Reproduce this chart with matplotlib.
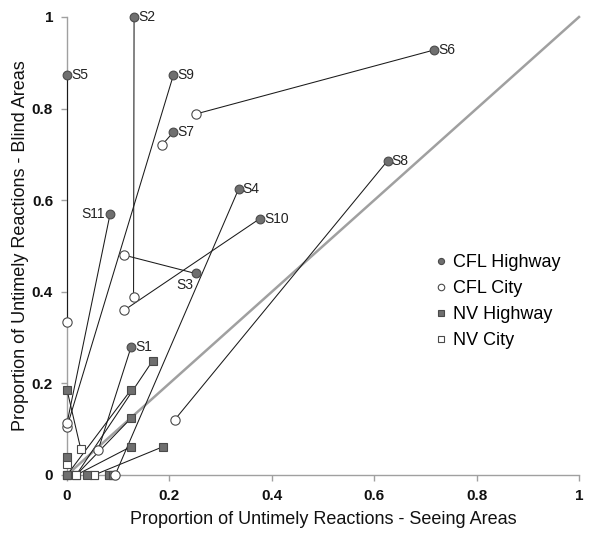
import numpy as np
import matplotlib
matplotlib.use("Agg")
import matplotlib.pyplot as plt

plt.rcParams['font.family'] = ['Liberation Sans', 'DejaVu Sans']

# subjects S1..S11
subjects = ['S1', 'S2', 'S3', 'S4', 'S5', 'S6', 'S7', 'S8', 'S9', 'S10', 'S11']

# CFL condition (highway / city), x = seeing areas, y = blind areas
cfl_hwy_x = [0.125, 0.131, 0.251, 0.335, 0.0, 0.717, 0.208, 0.626, 0.208, 0.377, 0.084]
cfl_hwy_y = [0.279, 1.0, 0.44, 0.624, 0.874, 0.928, 0.749, 0.686, 0.874, 0.56, 0.569]
cfl_city_x = [0.061, 0.13, 0.112, 0.094, 0.0, 0.251, 0.186, 0.21, 0.0, 0.112, 0.0]
cfl_city_y = [0.055, 0.389, 0.48, 0.0, 0.333, 0.788, 0.721, 0.12, 0.105, 0.36, 0.113]

# NV condition (highway / city)
nv_hwy_x = [0.167, 0.0, 0.125, 0.125, 0.125, 0.188, 0.0, 0.0, 0.04, 0.083, 0.09]
nv_hwy_y = [0.249, 0.186, 0.186, 0.124, 0.062, 0.062, 0.04, 0.0, 0.0, 0.0, 0.0]
nv_city_x = [0.018, 0.027, 0.0, 0.018, 0.018, 0.053, 0.0, 0.0, 0.053, 0.083, 0.09]
nv_city_y = [0.0, 0.056, 0.0, 0.0, 0.0, 0.0, 0.025, 0.0, 0.0, 0.0, 0.0]

ticks = [0, 0.2, 0.4, 0.6, 0.8, 1]
tick_labels = ['0', '0.2', '0.4', '0.6', '0.8', '1']

fig = plt.figure(figsize=(6.0, 5.34), dpi=100)
ax = fig.add_axes([67 / 600, 1 - 475 / 534, 512 / 600, 458 / 534])

# diagonal reference line
ax.plot([0, 1], [0, 1], color='#a0a0a0', lw=1.8, zorder=1, clip_on=False)

# connecting lines per subject
for i in range(len(subjects)):
    ax.plot([cfl_hwy_x[i], cfl_city_x[i]], [cfl_hwy_y[i], cfl_city_y[i]],
            color='#1a1a1a', lw=0.75, zorder=2.7, clip_on=False)
    ax.plot([nv_hwy_x[i], nv_city_x[i]], [nv_hwy_y[i], nv_city_y[i]],
            color='#1a1a1a', lw=0.75, zorder=2.7, clip_on=False)

fill_c = '#6f6f6f'
edge_c = '#4a4a4a'
ms = 6.3
ax.plot(nv_city_x, nv_city_y, 's', ms=ms - 0.3, mfc='white', mec=edge_c, mew=0.8,
        ls='none', zorder=3, clip_on=False, label='NV City')
ax.plot(nv_hwy_x, nv_hwy_y, 's', ms=ms - 0.3, mfc=fill_c, mec=edge_c, mew=0.8,
        ls='none', zorder=4, clip_on=False, label='NV Highway')
ax.plot(cfl_city_x, cfl_city_y, 'o', ms=ms + 0.4, mfc='white', mec=edge_c, mew=0.8,
        ls='none', zorder=5, clip_on=False, label='CFL City')
ax.plot(cfl_hwy_x, cfl_hwy_y, 'o', ms=ms, mfc=fill_c, mec=edge_c, mew=0.8,
        ls='none', zorder=6, clip_on=False, label='CFL Highway')

# subject labels
for i, s in enumerate(subjects):
    if s == 'S11':
        off, ha, va = (-4, 0), 'right', 'center'
    elif s == 'S3':
        off, ha, va = (-1.5, -3.5), 'right', 'top'
    else:
        off, ha, va = (3, 0), 'left', 'center'
    ax.annotate(s, (cfl_hwy_x[i], cfl_hwy_y[i]), xytext=off, textcoords='offset points',
                ha=ha, va=va, fontsize=10, color='#222222', zorder=7)

ax.set_xlim(0, 1)
ax.set_ylim(0, 1)
ax.set_xticks(ticks)
ax.set_yticks(ticks)
ax.set_xticklabels(tick_labels, fontweight='bold', fontsize=11)
ax.set_yticklabels(tick_labels, fontweight='bold', fontsize=11)
for sp in ['top', 'right']:
    ax.spines[sp].set_visible(False)
for sp in ['left', 'bottom']:
    ax.spines[sp].set_color('#a0a0a0')
    ax.spines[sp].set_linewidth(1.0)
ax.tick_params(colors='#a0a0a0', labelcolor='#111111', length=4, width=1.0, pad=6)

ax.set_xlabel('Proportion of Untimely Reactions - Seeing Areas', fontsize=13, color='#111111', labelpad=6)
ax.set_ylabel('Proportion of Untimely Reactions - Blind Areas', fontsize=13, color='#111111', labelpad=2)

handles, labels = ax.get_legend_handles_labels()
order = [3, 2, 1, 0]
leg = ax.legend([handles[k] for k in order], [labels[k] for k in order],
                loc='upper left', bbox_to_anchor=(436 / 600, 1 - 254 / 534),
                bbox_transform=fig.transFigure, frameon=False, fontsize=13,
                handlelength=0.6, handletextpad=0.35, labelspacing=0.5,
                borderpad=0, borderaxespad=0, markerscale=0.7)

fig.savefig('out.png', dpi=100)
